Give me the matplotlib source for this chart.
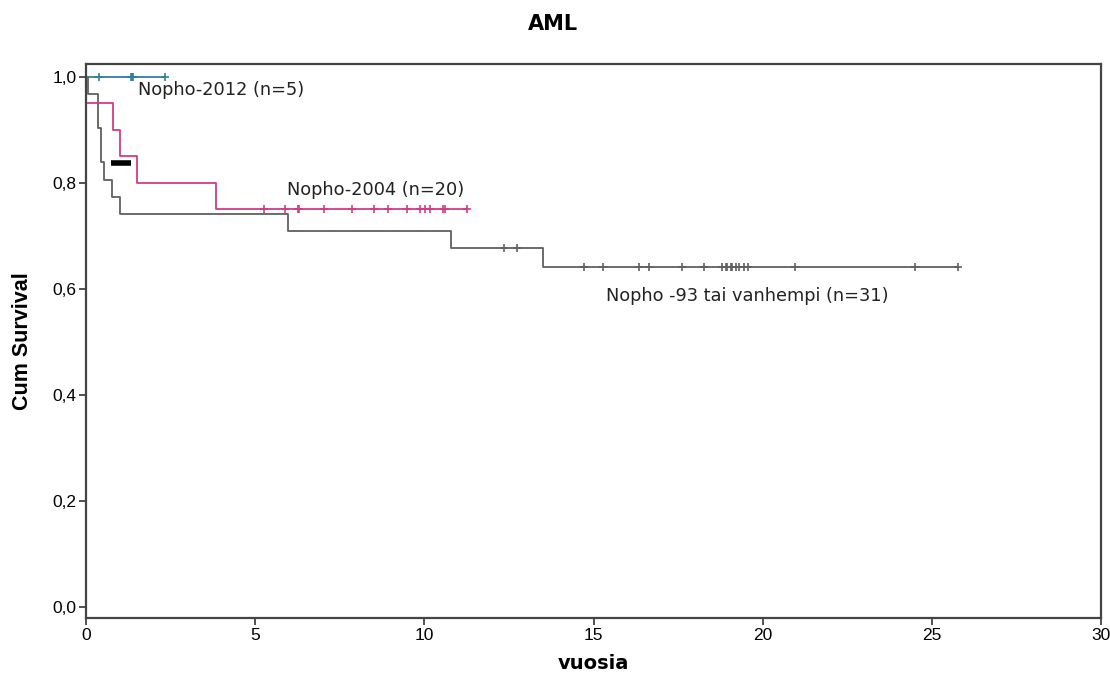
import matplotlib
matplotlib.use("Agg")
import matplotlib.pyplot as plt
import matplotlib.ticker as ticker

# Kaplan-Meier data (years)
# Nopho-2012, n=5 : no deaths, all censored
nopho2012_deaths = []
nopho2012_censored = [0.39, 1.33, 1.36, 1.39, 2.32]

# Nopho-2004, n=20
nopho2004_deaths = [0.0, 0.80, 0.99, 1.52, 3.84]
nopho2004_censored = [5.25, 5.89, 6.25, 6.30, 7.02, 7.86, 8.52, 8.91, 9.49,
                      9.88, 10.03, 10.18, 10.55, 10.60, 11.26]

# Nopho -93 tai vanhempi, n=31
nopho93_deaths = [0.05, 0.36, 0.36, 0.43, 0.43, 0.53, 0.78, 1.0, 5.98, 10.8, 13.5]
nopho93_censored = [12.35, 12.74, 14.71, 15.29, 16.34, 16.64, 17.62, 18.25, 18.8,
                    18.9, 18.95, 19.05, 19.1, 19.2, 19.3, 19.45, 19.55, 20.96,
                    24.5, 25.76]

group_labels = ["Nopho-2012 (n=5)", "Nopho-2004 (n=20)", "Nopho -93 tai vanhempi (n=31)"]
# short black segment that sits in the original picture
black_bar_x = [0.73, 1.32]
black_bar_y = [0.838, 0.838]

y_ticks = [0.0, 0.2, 0.4, 0.6, 0.8, 1.0]
x_ticks = [0, 5, 10, 15, 20, 25, 30]


def km(deaths, censored):
    # returns step x, step y and censor points
    events = [(t, 1) for t in deaths] + [(t, 0) for t in censored]
    events.sort(key=lambda e: (e[0], -e[1]))
    at_risk = len(events)
    surv = 1.0
    xs = [0.0]
    ys = [1.0]
    cx = []
    cy = []
    for t, d in events:
        if d == 1:
            xs.append(t)
            ys.append(surv)
            surv = surv * (at_risk - 1) / at_risk
            xs.append(t)
            ys.append(surv)
        else:
            cx.append(t)
            cy.append(surv)
        at_risk -= 1
    last = max([e[0] for e in events])
    xs.append(last)
    ys.append(surv)
    return xs, ys, cx, cy


narrow = ["Liberation Sans Narrow", "Liberation Sans", "DejaVu Sans"]
plt.rcParams['font.family'] = ["Liberation Sans", "DejaVu Sans"]

fig = plt.figure(figsize=(11.1, 6.77), dpi=100)
ax = fig.add_axes([0.0775, 0.087, 0.9145, 0.8185])

groups = [(nopho93_deaths, nopho93_censored, '#606060'),
          (nopho2004_deaths, nopho2004_censored, '#d63a86'),
          (nopho2012_deaths, nopho2012_censored, '#2f7f9f')]
for deaths, cens, col in groups:
    xs, ys, cx, cy = km(deaths, cens)
    ax.plot(xs, ys, color=col, lw=1.3)
    ax.plot(cx, cy, ls='none', marker='+', markersize=6, mew=1.2, color=col)

ax.plot(black_bar_x, black_bar_y, color='black', lw=4, solid_capstyle='butt')

lab_font = dict(fontsize=12.8, va='center', color='#222222', family='DejaVu Sans')
ax.text(1.54, 0.976, group_labels[0], **lab_font)
ax.text(5.95, 0.787, group_labels[1], **lab_font)
ax.text(15.36, 0.586, group_labels[2], **lab_font)

ax.set_xlim(0, 30)
ax.set_ylim(-0.021, 1.0245)
ax.set_xticks(x_ticks)
ax.set_yticks(y_ticks)
ax.yaxis.set_major_formatter(ticker.FuncFormatter(lambda v, p: f"{v:.1f}".replace('.', ',')))
ax.tick_params(direction='out', length=5, width=1.3, color='#444444', pad=2)
for lab in ax.get_xticklabels() + ax.get_yticklabels():
    lab.set_family(narrow)
    lab.set_fontsize(12.5)
for s in ax.spines.values():
    s.set_color('#444444')
    s.set_linewidth(1.6)

ax.set_ylabel("Cum Survival", fontsize=15.5, fontweight='bold', family=narrow, labelpad=14)
ax.set_xlabel("vuosia", fontsize=14, fontweight='bold', family='DejaVu Sans', labelpad=8)
fig.text(0.498, 0.965, "AML", fontsize=15, fontweight='bold', family='DejaVu Sans',
         ha='center', va='center')

fig.savefig("out.png", dpi=100)
